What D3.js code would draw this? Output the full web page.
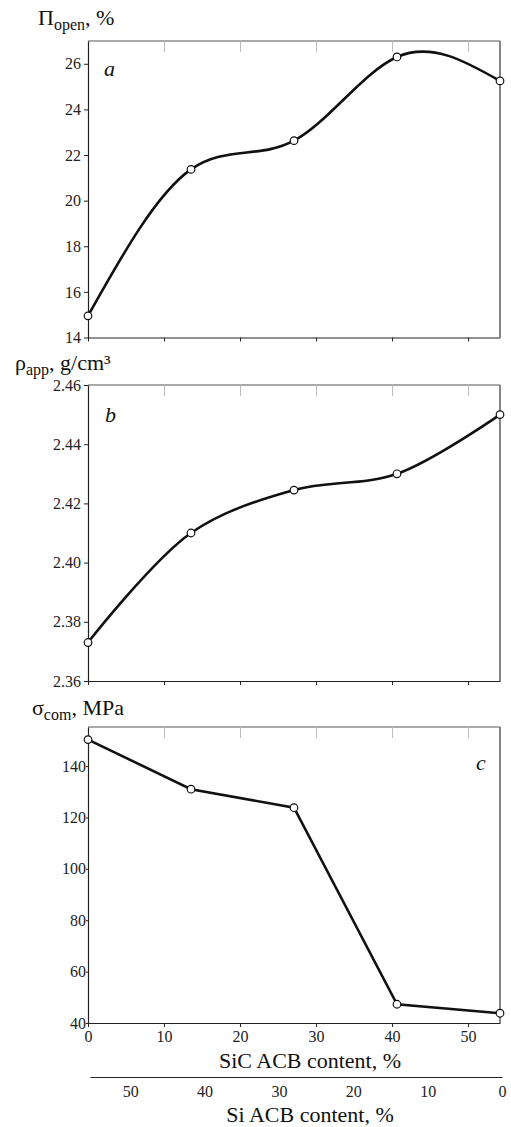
<!DOCTYPE html>
<html>
<head>
<meta charset="utf-8">
<script src="https://cdn.jsdelivr.net/npm/d3@7"></script>
<style>
  body { margin: 0; background: #fff; }
  svg text { font-family: "Liberation Serif", "Times New Roman", "DejaVu Serif", serif; }
  .tick text { font-size: 16px; fill: #222; }
</style>
</head>
<body>
<div id="chart"></div>
<script>
// SiC ACB content (%) of the five samples, shared by all three panels
const sic_content = [0, 13.55, 27.1, 40.65, 54.2];
const open_porosity = [14.95, 21.37, 22.63, 26.3, 25.25];
const apparent_density = [2.373, 2.410, 2.4245, 2.430, 2.450];
const compressive_strength = [150.3, 131, 123.8, 47.3, 43.8];

const sic_ticks = [0, 10, 20, 30, 40, 50];
const si_ticks = [0, 10, 20, 30, 40, 50];
const porosity_ticks = [14, 16, 18, 20, 22, 24, 26];
const density_ticks = [2.36, 2.38, 2.40, 2.42, 2.44, 2.46];
const strength_ticks = [40, 60, 80, 100, 120, 140];

const width = 511;
const height = 1127;
const left = 88;
const right = 500;

const svg = d3.select("#chart").append("svg")
  .attr("width", width)
  .attr("height", height);

const x = d3.scaleLinear().domain([0, 54.2]).range([left, right]);

const panels = [
  {
    values: open_porosity, domain: [14, 27], ticks: porosity_ticks, format: d3.format("d"),
    top: 41, bottom: 337.5, curve: d3.curveNatural,
    letter: "a", letter_x: 104, letter_y: 76,
    title: ["Π", "open", ", %"], title_x: 38, title_y: 25,
  },
  {
    values: apparent_density, domain: [2.36, 2.46], ticks: density_ticks, format: d3.format(".2f"),
    top: 385, bottom: 681, curve: d3.curveCatmullRom.alpha(0.5),
    letter: "b", letter_x: 105, letter_y: 422,
    title: ["ρ", "app", ", g/cm³"], title_x: 15, title_y: 370,
  },
  {
    values: compressive_strength, domain: [40, 155.2], ticks: strength_ticks, format: d3.format("d"),
    top: 727, bottom: 1023, curve: d3.curveLinear,
    letter: "c", letter_x: 476, letter_y: 770,
    title: ["σ", "com", ", MPa"], title_x: 32, title_y: 715,
  },
];

panels.forEach((panel, index) => {
  const y = d3.scaleLinear().domain(panel.domain).range([panel.bottom, panel.top]);
  const g = svg.append("g");

  // frame: grey top and right edges
  g.append("line")
    .attr("x1", left).attr("x2", right)
    .attr("y1", panel.top).attr("y2", panel.top)
    .attr("stroke", "#555").attr("stroke-width", 1.2);
  g.append("line")
    .attr("x1", right).attr("x2", right)
    .attr("y1", panel.top).attr("y2", panel.bottom)
    .attr("stroke", "#666").attr("stroke-width", 1.6);

  // top inner ticks, light grey
  g.append("g")
    .attr("transform", `translate(0,${panel.top})`)
    .call(d3.axisTop(x).tickValues(sic_ticks.slice(1)).tickSize(-11).tickFormat(""))
    .call((axis) => axis.select(".domain").remove())
    .call((axis) => axis.selectAll(".tick line").attr("stroke", "#bbb"));

  const last = index === panels.length - 1;
  const x_axis = g.append("g")
    .attr("transform", `translate(0,${panel.bottom})`)
    .call(d3.axisBottom(x).tickValues(sic_ticks).tickSizeInner(4).tickSizeOuter(0)
      .tickPadding(2).tickFormat(last ? d3.format("d") : ""))
    .attr("font-family", null);
  x_axis.select(".domain").attr("stroke", "#222").attr("stroke-width", 1.2);
  x_axis.selectAll(".tick line").attr("stroke", "#222");
  x_axis.selectAll(".tick text").attr("dy", "0.8em");

  const y_axis = g.append("g")
    .attr("transform", `translate(${left},0)`)
    .call(d3.axisLeft(y).tickValues(panel.ticks).tickSizeInner(last ? 2 : 4).tickSizeOuter(0)
      .tickPadding(last ? 0 : 3).tickFormat(panel.format))
    .attr("font-family", null);
  y_axis.select(".domain").attr("stroke", "#222").attr("stroke-width", 1.2);
  y_axis.selectAll(".tick line").attr("stroke", "#222");

  const line = d3.line()
    .x((_, i) => x(sic_content[i]))
    .y((value) => y(value))
    .curve(panel.curve);
  g.append("path")
    .attr("d", line(panel.values))
    .attr("fill", "none")
    .attr("stroke", "#111")
    .attr("stroke-width", 2.6);

  g.selectAll("circle")
    .data(panel.values)
    .join("circle")
    .attr("cx", (_, i) => x(sic_content[i]))
    .attr("cy", (value) => y(value))
    .attr("r", 3.8)
    .attr("fill", "#fff")
    .attr("stroke", "#111")
    .attr("stroke-width", 1.2);

  g.append("text")
    .attr("x", panel.letter_x)
    .attr("y", panel.letter_y)
    .attr("font-size", 22)
    .attr("font-style", "italic")
    .attr("fill", "#111")
    .text(panel.letter);

  const title = g.append("text")
    .attr("x", panel.title_x)
    .attr("y", panel.title_y)
    .attr("font-size", 22)
    .attr("fill", "#111");
  title.append("tspan").text(panel.title[0]);
  title.append("tspan").attr("font-size", 16).attr("dy", 5).text(panel.title[1]);
  title.append("tspan").attr("dy", -5).text(panel.title[2]);
});

svg.append("text")
  .attr("x", 310)
  .attr("y", 1068)
  .attr("text-anchor", "middle")
  .attr("font-size", 22)
  .attr("fill", "#111")
  .text("SiC ACB content, %");

// second, reversed axis for Si ACB content
const si = d3.scaleLinear().domain([0, 55.4]).range([502, 90]);
const si_axis = svg.append("g")
  .attr("transform", "translate(0,1077)")
  .call(d3.axisBottom(si).tickValues(si_ticks).tickSize(0).tickPadding(7).tickFormat(d3.format("d")))
  .attr("font-family", null);
si_axis.select(".domain").attr("stroke", "#222").attr("stroke-width", 1.2);
si_axis.selectAll(".tick text").attr("dy", "0.8em");

svg.append("text")
  .attr("x", 310)
  .attr("y", 1122)
  .attr("text-anchor", "middle")
  .attr("font-size", 22)
  .attr("fill", "#111")
  .text("Si ACB content, %");
</script>
</body>
</html>
